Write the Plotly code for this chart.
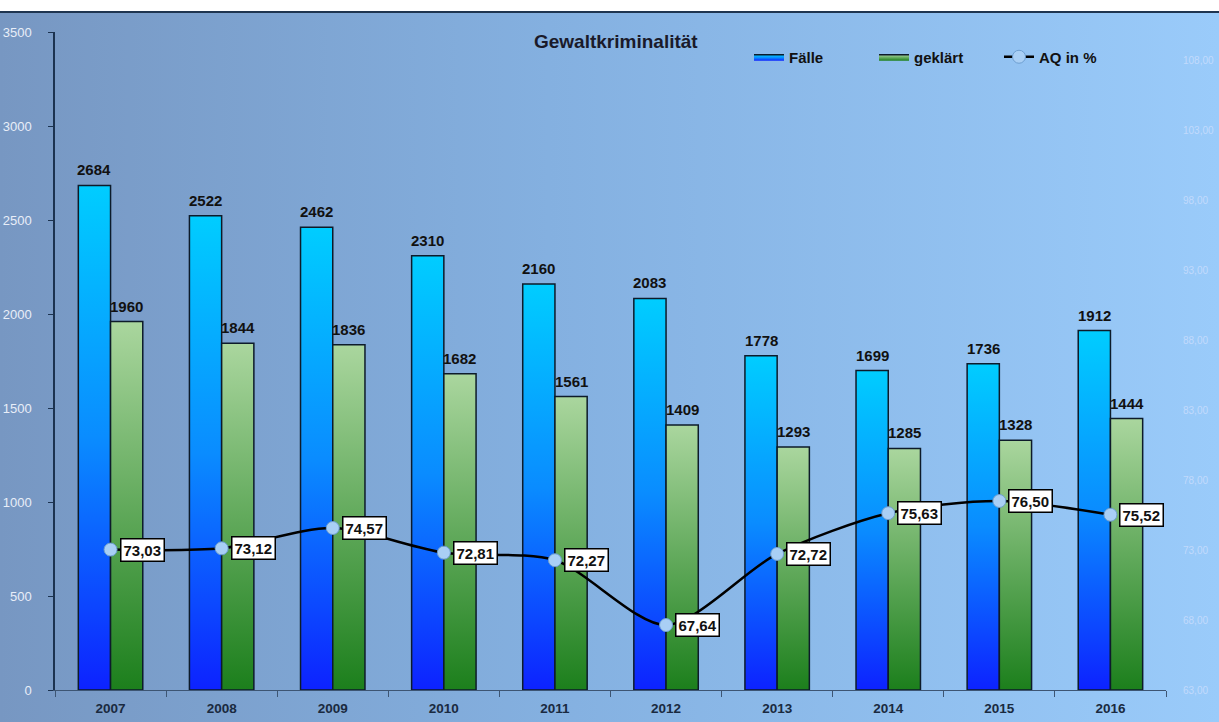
import base64
import plotly.graph_objects as go

# ---------------- data ----------------
years = ["2007", "2008", "2009", "2010", "2011", "2012", "2013", "2014", "2015", "2016"]
faelle = [2684, 2522, 2462, 2310, 2160, 2083, 1778, 1699, 1736, 1912]
geklaert = [1960, 1844, 1836, 1682, 1561, 1409, 1293, 1285, 1328, 1444]
aq = [73.03, 73.12, 74.57, 72.81, 72.27, 67.64, 72.72, 75.63, 76.50, 75.52]
title_text = "Gewaltkriminalität"
series_names = ["Fälle", "geklärt", "AQ in %"]

# ---------------- styling ----------------
W_PX, H_PX = 1219, 722
ML, MR, MT, MB = 55, 53, 32, 32
PW = W_PX - ML - MR
PH = H_PX - MT - MB
FONT = "Liberation Sans, Arial, sans-serif"
BAR_W = 0.29
FA_SCALE = [[0, "#0d22ff"], [0.5, "#0a8cff"], [1, "#00cdff"]]
GK_SCALE = [[0, "#1c7f1c"], [0.5, "#62aa5c"], [1, "#aad69e"]]
OUTLINE = "#0d1b2a"


def px_to_paper_x(px):
    return (px - ML) / PW


def px_to_paper_y(py):
    return (H_PX - MB - py) / PH


fig = go.Figure()

xs = list(range(len(years)))


def add_bar(xc0, xc1, v, scale, name, show):
    fig.add_trace(go.Scatter(
        x=[xc0, xc0, xc1, xc1, xc0], y=[0, v, v, 0, 0],
        mode="lines", fill="toself",
        fillgradient=dict(type="vertical", colorscale=scale),
        line=dict(color=OUTLINE, width=1.5),
        name=name, legendgroup=name, showlegend=show,
        hoverinfo="skip", yaxis="y",
    ))


for i, v in zip(xs, faelle):
    add_bar(i - BAR_W, i, v, FA_SCALE, series_names[0], i == 0)
for i, v in zip(xs, geklaert):
    add_bar(i, i + BAR_W, v, GK_SCALE, series_names[1], i == 0)

fig.add_trace(go.Scatter(
    x=xs, y=aq, yaxis="y2", mode="lines+markers", name=series_names[2],
    line=dict(color="black", width=2.5, shape="spline", smoothing=0.8),
    marker=dict(symbol="circle", size=13, color="#a9cff5",
                line=dict(color="#6f9fd0", width=1)),
))

LBL_FONT = dict(family=FONT, size=15, color="#111111", weight="bold")
annotations = []
for i, v in zip(xs, faelle):
    annotations.append(dict(x=i - BAR_W / 2, y=v, xref="x", yref="y", text=str(v),
                            showarrow=False, yanchor="bottom", yshift=5, font=LBL_FONT))
for i, v in zip(xs, geklaert):
    annotations.append(dict(x=i + BAR_W / 2, y=v, xref="x", yref="y", text=str(v),
                            showarrow=False, yanchor="bottom", yshift=5, font=LBL_FONT))
for i, v in zip(xs, aq):
    annotations.append(dict(x=i, y=v, xref="x", yref="y2",
                            text=f"{v:.2f}".replace(".", ","),
                            showarrow=False, xanchor="left", yanchor="middle", xshift=9,
                            bgcolor="white", bordercolor="black", borderwidth=1.5, borderpad=2,
                            font=LBL_FONT))
annotations.append(dict(x=px_to_paper_x(616), y=px_to_paper_y(41), xref="paper", yref="paper",
                        text=title_text, showarrow=False, xanchor="center", yanchor="middle",
                        font=dict(family=FONT, size=19, color="#1a1a2a", weight="bold")))

# background gradient as svg image
svg = ('<svg xmlns="http://www.w3.org/2000/svg" width="100" height="100" preserveAspectRatio="none">'
       '<defs><linearGradient id="g" x1="0" y1="0" x2="1" y2="0">'
       '<stop offset="0" stop-color="#7797c2"/>'
       '<stop offset="0.45" stop-color="#84b0e0"/>'
       '<stop offset="1" stop-color="#9acbfa"/>'
       '</linearGradient></defs><rect width="100" height="100" fill="url(#g)"/></svg>')
src = "data:image/svg+xml;base64," + base64.b64encode(svg.encode()).decode()

x_left = px_to_paper_x(0)
x_right = px_to_paper_x(W_PX)
y_top = px_to_paper_y(12)
y_bot = px_to_paper_y(H_PX)

fig.update_layout(
    width=W_PX, height=H_PX,
    margin=dict(l=ML, r=MR, t=MT, b=MB, pad=0, autoexpand=False),
    paper_bgcolor="white", plot_bgcolor="rgba(0,0,0,0)",
    separators=",.",
    font=dict(family=FONT),
    images=[dict(source=src, xref="paper", yref="paper", x=x_left, y=y_top,
                 sizex=x_right - x_left, sizey=y_top - y_bot, sizing="stretch",
                 xanchor="left", yanchor="top", layer="below")],
    shapes=[dict(type="line", xref="paper", yref="paper", x0=x_left, x1=x_right,
                 y0=y_top, y1=y_top, line=dict(color="#1f3550", width=2))],
    annotations=annotations,
    showlegend=True,
    legend=dict(orientation="h", x=px_to_paper_x(749), y=px_to_paper_y(57),
                xanchor="left", yanchor="middle", bgcolor="rgba(0,0,0,0)",
                font=dict(family=FONT, size=15, color="#111111", weight="bold"),
                entrywidth=80, itemwidth=30, traceorder="normal"),
    xaxis=dict(range=[-0.5, len(years) - 0.5], tickvals=xs, ticktext=years,
               ticks="", showline=True, linecolor="#3d5573", linewidth=1.2,
               showgrid=False, zeroline=False, ticklabelstandoff=6, automargin=False,
               minor=dict(ticks="outside", tick0=0.5, dtick=1, ticklen=6,
                          tickcolor="#3d5573", tickwidth=1.2, showgrid=False),
               tickfont=dict(family=FONT, size=13.5, color="#1a2a40", weight="bold")),
    yaxis=dict(range=[0, 3500], dtick=500, tick0=0, ticks="outside", ticklen=5,
               tickcolor="#1c3350", showline=True, linecolor="#1c3350", linewidth=1.5,
               showgrid=False, zeroline=False, ticklabelstandoff=14, automargin=False,
               tickfont=dict(family=FONT, size=13, color="#e8eef8")),
    yaxis2=dict(overlaying="y", side="right", range=[63, 110], tick0=63, dtick=5,
                tickformat=".2f", showgrid=False, zeroline=False, showline=False,
                ticks="outside", ticklen=14, tickcolor="rgba(0,0,0,0)", automargin=False,
                tickfont=dict(family=FONT, size=10, color="rgba(228,232,255,0.55)")),
)

fig.write_html("out.html", config={"displayModeBar": False},
               post_script="document.body.style.margin='0';document.body.style.padding='0';")
